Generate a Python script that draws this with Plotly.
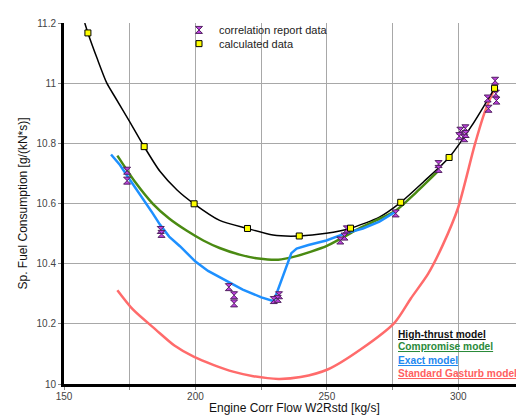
import plotly.graph_objects as go

# ---- data ----
calc_x = [159.1, 180.5, 199.5, 219.8, 239.5, 259.0, 278.1, 296.5, 313.8]
calc_y = [11.167, 10.789, 10.599, 10.517, 10.492, 10.518, 10.604, 10.753, 10.983]

corr_x = [174.0, 174.0, 186.8, 187.1, 212.7, 214.7, 214.7, 229.8, 231.8, 231.3,
          255.1, 256.7, 257.6, 276.2, 292.5, 292.5, 300.8, 300.4, 302.7, 302.3,
          302.8, 311.2, 311.5, 314.0, 314.3, 314.5]
corr_y = [10.709, 10.676, 10.512, 10.499, 10.322, 10.295, 10.268, 10.279, 10.295, 10.283,
          10.477, 10.490, 10.514, 10.567, 10.731, 10.715, 10.842, 10.824, 10.850, 10.817,
          10.831, 10.949, 10.915, 11.008, 10.965, 10.942]

high_x = [157.9, 159.1, 162.7, 166.3, 169.4, 174.8, 180.5, 186.5, 193.0, 199.5, 209.2,
          219.8, 229.5, 239.5, 249.8, 259.0, 270.0, 278.1, 287.0, 296.5, 305.0, 313.8]
high_y = [11.20, 11.167, 11.080, 11.0, 10.954, 10.875, 10.789, 10.707, 10.645, 10.599, 10.544,
          10.517, 10.495, 10.492, 10.501, 10.518, 10.555, 10.604, 10.674, 10.753, 10.857, 10.983]

comp_x = [170.3, 177.0, 183.9, 190.0, 196.6, 203.0, 209.2, 216.8, 224.0, 231.5, 238.4,
          244.0, 249.8, 255.5, 261.2, 268.5, 276.3, 284.0, 292.5]
comp_y = [10.759, 10.672, 10.598, 10.550, 10.510, 10.477, 10.452, 10.430, 10.417, 10.413, 10.425,
          10.440, 10.458, 10.484, 10.512, 10.543, 10.577, 10.637, 10.709]

exact_x = [167.9, 171.3, 175.0, 178.9, 183.7, 186.5, 190.0, 194.1, 200.0, 204.8, 212.7,
           218.0, 225.1, 229.8, 236.5, 238.5, 243.0, 249.8, 256.8, 263.7, 270.0, 276.3]
exact_y = [10.763, 10.728, 10.680, 10.631, 10.568, 10.530, 10.490, 10.458, 10.407, 10.376, 10.338,
           10.314, 10.288, 10.275, 10.435, 10.450, 10.462, 10.477, 10.500, 10.517, 10.540, 10.574]

gas_x = [170.3, 176.3, 185.0, 192.0, 199.5, 207.0, 214.3, 222.0, 231.5, 240.0, 250.5,
         263.2, 275.8, 282.0, 288.5, 294.0, 299.9, 306.2, 310.0, 313.8]
gas_y = [10.312, 10.247, 10.180, 10.128, 10.090, 10.063, 10.041, 10.026, 10.017, 10.023, 10.049,
         10.117, 10.204, 10.285, 10.366, 10.460, 10.585, 10.793, 10.902, 10.983]

model_names = ["High-thrust model", "Compromise model", "Exact model", "Standard Gasturb model"]
model_text_colors = ["#111111", "#2a8a3a", "#1e88f0", "#ff6060"]

x_title = "Engine Corr Flow W2Rstd [kg/s]"
y_title = "Sp. Fuel Consumption [g/(kN*s)]"

x_tickvals = [150, 175, 200, 225, 250, 275, 300, 325]
x_ticktext = ["150", "", "200", "", "250", "", "300", ""]
y_tickvals = [10.0, 10.2, 10.4, 10.6, 10.8, 11.0, 11.2]
y_ticktext = ["10", "10.2", "10.4", "10.6", "10.8", "11", "11.2"]

FONT = "Liberation Sans, Arial, sans-serif"

fig = go.Figure()

fig.add_trace(go.Scatter(x=gas_x, y=gas_y, mode="lines",
                         line=dict(color="#ff6b6b", width=2.5, shape="spline", smoothing=0.7),
                         showlegend=False, hoverinfo="skip"))
fig.add_trace(go.Scatter(x=high_x, y=high_y, mode="lines",
                         line=dict(color="#000000", width=1.5, shape="spline", smoothing=0.7),
                         showlegend=False, hoverinfo="skip"))
fig.add_trace(go.Scatter(x=comp_x, y=comp_y, mode="lines",
                         line=dict(color="#4a8a12", width=2.5, shape="spline", smoothing=0.7),
                         showlegend=False, hoverinfo="skip"))
fig.add_trace(go.Scatter(x=exact_x, y=exact_y, mode="lines",
                         line=dict(color="#1e90ff", width=2.5, shape="linear"),
                         showlegend=False, hoverinfo="skip"))

fig.add_trace(go.Scatter(x=corr_x, y=corr_y, mode="markers", name="correlation report data",
                         legend="legend",
                         marker=dict(symbol="hourglass", size=7, color="#c040e0",
                                     line=dict(color="#502060", width=1))))
fig.add_trace(go.Scatter(x=calc_x, y=calc_y, mode="markers", name="calculated data",
                         legend="legend2",
                         marker=dict(symbol="square", size=6, color="#ffff00",
                                     line=dict(color="#000000", width=1))))

ann_y = [0.138, 0.103, 0.065, 0.030]
for name, col, yy in zip(model_names, model_text_colors, ann_y):
    fig.add_annotation(xref="paper", yref="paper", x=0.7217, y=yy, xanchor="left", yanchor="middle",
                       text="<b><u>" + name + "</u></b>", showarrow=False,
                       font=dict(family=FONT, size=10.2, color=col))

# axis titles
fig.add_annotation(xref="paper", yref="paper", x=0.5, y=-0.066, xanchor="center", yanchor="middle",
                   text=x_title, showarrow=False, font=dict(family=FONT, size=12, color="#111111"))
fig.add_annotation(xref="paper", yref="paper", x=-0.0913, y=0.5, xanchor="center", yanchor="middle",
                   text=y_title, textangle=-90, showarrow=False,
                   font=dict(family=FONT, size=12, color="#111111"))

leg_font = dict(family=FONT, size=11, color="#222222")
# the page body has an 8px margin, so the figure is shifted by 8px inside the window
fig.update_layout(
    width=524, height=417,
    margin=dict(l=56, r=8, t=7, b=41),
    paper_bgcolor="white", plot_bgcolor="white",
    font=dict(family=FONT, size=10, color="#333333"),
    legend=dict(x=0.25, y=1.021, xanchor="left", yanchor="top", bgcolor="rgba(0,0,0,0)",
                font=leg_font),
    legend2=dict(x=0.25, y=0.983, xanchor="left", yanchor="top", bgcolor="rgba(0,0,0,0)",
                 font=leg_font),
    xaxis=dict(range=[150, 325], tickvals=x_tickvals, ticktext=x_ticktext,
               showgrid=True, gridcolor="#a8a8a8", gridwidth=1,
               showline=True, linecolor="black", linewidth=3,
               ticks="outside", ticklen=3, tickcolor="#888888", ticklabelstandoff=-2,
               tickfont=dict(size=10, color="#444444"), zeroline=False),
    yaxis=dict(range=[10, 11.2], tickvals=y_tickvals, ticktext=y_ticktext,
               showgrid=True, gridcolor="#a8a8a8", gridwidth=1,
               showline=True, linecolor="black", linewidth=3,
               ticks="outside", ticklen=3, tickcolor="#888888",
               tickfont=dict(size=10, color="#444444"), zeroline=False),
)

fig.write_html("out.html")
